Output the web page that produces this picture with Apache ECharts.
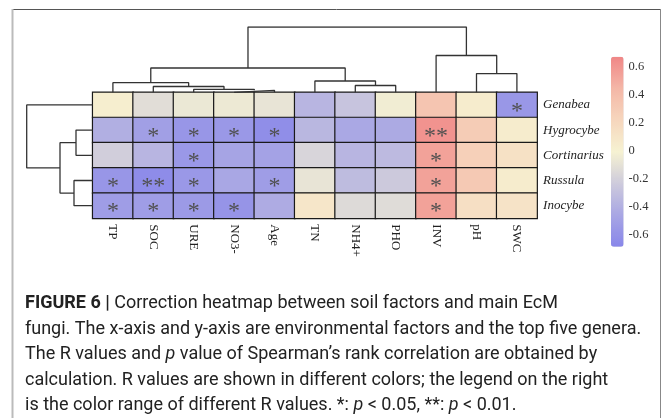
<!DOCTYPE html>
<html>
<head>
<meta charset="utf-8">
<script src="https://cdn.jsdelivr.net/npm/echarts@6/dist/echarts.min.js"></script>
<style>
  html, body { margin: 0; padding: 0; background: #fff; }
  #chart { width: 665px; height: 418px; }
</style>
</head>
<body>
<div id="chart"></div>
<script>
// Environmental factors (columns, in clustered order) and genera (rows)
const factors = ['TP', 'SOC', 'URE', 'NO3-', 'Age', 'TN', 'NH4+', 'PHO', 'INV', 'pH', 'SWC'];
const genera = ['Genabea', 'Hygrocybe', 'Cortinarius', 'Russula', 'Inocybe'];

// Spearman R per genus, one value per factor
const rGenabea     = [0.03, -0.12, -0.06, -0.05, -0.08, -0.36, -0.27, -0.03, 0.35, 0.05, -0.56];
const rHygrocybe   = [-0.40, -0.50, -0.57, -0.55, -0.62, -0.35, -0.44, -0.43, 0.62, 0.30, 0.05];
const rCortinarius = [-0.21, -0.36, -0.55, -0.47, -0.48, -0.17, -0.36, -0.33, 0.55, 0.27, 0.14];
const rRussula     = [-0.57, -0.64, -0.55, -0.45, -0.52, -0.08, -0.32, -0.24, 0.55, 0.32, 0.05];
const rInocybe     = [-0.52, -0.52, -0.54, -0.58, -0.42, 0.10, -0.14, -0.13, 0.55, 0.15, 0.12];

// Significance marks (*: p < 0.05, **: p < 0.01)
const sGenabea     = ['', '', '', '', '', '', '', '', '', '', '*'];
const sHygrocybe   = ['', '*', '*', '*', '*', '', '', '', '**', '', ''];
const sCortinarius = ['', '', '*', '', '', '', '', '', '*', '', ''];
const sRussula     = ['*', '**', '*', '', '*', '', '', '', '*', '', ''];
const sInocybe     = ['*', '*', '*', '*', '', '', '', '', '*', '', ''];

// Hierarchical clustering merges: [childA, childB, height]; a number refers to an earlier merge
const colMerges = [
  ['NO3-', 'Age', 2.0],
  ['URE', 0, 3.0],
  ['SOC', 1, 5.8],
  ['TP', 2, 9.6],
  ['NH4+', 'PHO', 6.8],
  ['TN', 4, 11.3],
  [3, 5, 24.3],
  ['pH', 'SWC', 18.7],
  ['INV', 7, 36.8],
  [6, 8, 65.3]
];
const rowMerges = [
  ['Hygrocybe', 'Cortinarius', 16.7],
  ['Russula', 'Inocybe', 18.7],
  [0, 1, 32.7],
  ['Genabea', 2, 66]
];

// Colour-bar tick labels
const legendTicks = [-0.6, -0.4, -0.2, 0, 0.2, 0.4, 0.6];
const rMin = -0.68, rMax = 0.68;

const rValues = [rGenabea, rHygrocybe, rCortinarius, rRussula, rInocybe];
const sValues = [sGenabea, sHygrocybe, sCortinarius, sRussula, sInocybe];

const heatData = [];
genera.forEach((g, i) => {
  factors.forEach((f, j) => {
    heatData.push([j, i, rValues[i][j], sValues[i][j]]);
  });
});

// Turn a merge list into elbow polylines: [leafPos, height] pairs
function dendroSegments(leaves, merges) {
  const nodePos = [], nodeH = [];
  const pos = (n) => typeof n === 'number' ? nodePos[n] : leaves.indexOf(n);
  const ht = (n) => typeof n === 'number' ? nodeH[n] : 0;
  const segs = [];
  merges.forEach((m, k) => {
    const pa = pos(m[0]), pb = pos(m[1]);
    const ha = ht(m[0]), hb = ht(m[1]);
    const h = m[2];
    segs.push([[pa, ha], [pa, h], [pb, h], [pb, hb]]);
    nodePos[k] = (pa + pb) / 2;
    nodeH[k] = h;
  });
  return segs;
}

const colSegs = dendroSegments(factors, colMerges);
const rowSegs = dendroSegments(genera, rowMerges);

const treeLine = { color: '#333', width: 1.3 };
const dendroSeries = [];
colSegs.forEach(s => dendroSeries.push({
  type: 'line', xAxisIndex: 1, yAxisIndex: 1, data: s,
  showSymbol: false, silent: true, lineStyle: treeLine, animation: false
}));
rowSegs.forEach(s => dendroSeries.push({
  type: 'line', xAxisIndex: 2, yAxisIndex: 2, data: s.map(p => [p[1], p[0]]),
  showSymbol: false, silent: true, lineStyle: treeLine, animation: false
}));

const serif = '"Liberation Serif", "Times New Roman", serif';
const capFont = '"Roboto", "Liberation Sans", sans-serif';
const capSize = 18;

const hidden = { show: false };
const chart = echarts.init(document.getElementById('chart'), null, { renderer: 'canvas' });

chart.setOption({
  animation: false,
  backgroundColor: '#fff',
  grid: [
    { left: 92.7, top: 92.3, width: 444.4, height: 126 },
    { left: 92.7, top: 27, width: 444.4, height: 65.3 },
    { left: 26.7, top: 92.3, width: 66, height: 126 },
    { left: 611, top: 66.7, width: 12.6, height: 168.3 }
  ],
  xAxis: [
    {
      gridIndex: 0, type: 'category', data: factors,
      axisLine: hidden, axisTick: hidden, splitLine: hidden,
      axisLabel: { rotate: -90, margin: 6, fontFamily: serif, fontSize: 13, color: '#222' }
    },
    { gridIndex: 1, type: 'value', min: -0.5, max: 10.5, show: false },
    { gridIndex: 2, type: 'value', min: 0, max: 66, inverse: true, show: false },
    { gridIndex: 3, type: 'value', show: false }
  ],
  yAxis: [
    {
      gridIndex: 0, type: 'category', data: genera, inverse: true, position: 'right',
      axisLine: hidden, axisTick: hidden, splitLine: hidden,
      axisLabel: { margin: 6, fontFamily: serif, fontStyle: 'italic', fontSize: 13, color: '#222' }
    },
    { gridIndex: 1, type: 'value', min: 0, max: 65.3, show: false },
    { gridIndex: 2, type: 'value', min: -0.5, max: 4.5, inverse: true, show: false },
    {
      gridIndex: 3, type: 'value', position: 'right',
      min: legendTicks[0], max: legendTicks[legendTicks.length - 1], interval: 0.2,
      axisLine: hidden, axisTick: hidden, splitLine: hidden,
      axisLabel: {
        margin: 5, fontFamily: serif, fontSize: 12.5, color: '#333',
        formatter: v => String(+v.toFixed(1))
      }
    }
  ],
  visualMap: {
    type: 'continuous', seriesIndex: 0, dimension: 2,
    min: rMin, max: rMax, calculable: false, hoverLink: false,
    orient: 'vertical', left: 611, top: 56.7, padding: 0,
    itemWidth: 12.6, itemHeight: 190, text: ['', ''], showLabel: false,
    inRange: {
      color: ['#8886ea', '#a8a6e4', '#cecbdc', '#f6f2d2', '#f6d6bd', '#f4b7a7', '#f08686']
    }
  },
  series: [
    {
      type: 'heatmap', xAxisIndex: 0, yAxisIndex: 0, data: heatData,
      itemStyle: { borderColor: '#1a1a1a', borderWidth: 1.2 },
      label: {
        show: true, formatter: p => p.data[3],
        fontFamily: serif, fontSize: 24, color: '#505050', offset: [0, 6.5]
      },
      emphasis: { disabled: true }
    }
  ].concat(dendroSeries),
  graphic: [
    { type: 'line', shape: { x1: 12, y1: 9.5, x2: 661, y2: 9.5 }, style: { stroke: '#555', lineWidth: 1 }, silent: true },
    { type: 'line', shape: { x1: 12.5, y1: 9, x2: 12.5, y2: 418 }, style: { stroke: '#bbb', lineWidth: 2 }, silent: true },
    { type: 'line', shape: { x1: 660.5, y1: 9, x2: 660.5, y2: 418 }, style: { stroke: '#888', lineWidth: 1 }, silent: true },
    {
      type: 'text', left: 25, top: 291, silent: true,
      style: {
        text: '{b|FIGURE 6 |} Correction heatmap between soil factors and main EcM\n' +
              'fungi. The x-axis and y-axis are environmental factors and the top five genera.\n' +
              'The R values and {i|p} value of Spearman\u2019s rank correlation are obtained by\n' +
              'calculation. R values are shown in different colors; the legend on the right\n' +
              'is the color range of different R values. *: {i|p} < 0.05, **: {i|p} < 0.01.',
        fontFamily: capFont, fontSize: capSize, lineHeight: 25.5, fill: '#222',
        rich: {
          b: { fontFamily: capFont, fontSize: capSize, fontWeight: 'bold', lineHeight: 25.5, fill: '#222' },
          i: { fontFamily: capFont, fontSize: capSize, fontStyle: 'italic', lineHeight: 25.5, fill: '#222' }
        }
      }
    }
  ]
});
</script>
</body>
</html>
